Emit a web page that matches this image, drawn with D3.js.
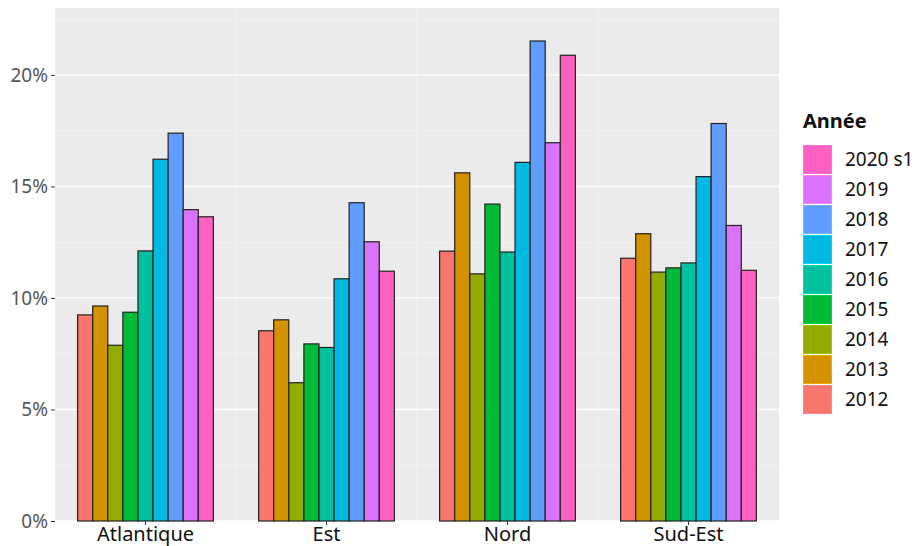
<!DOCTYPE html>
<html>
<head>
<meta charset="utf-8">
<script src="https://cdn.jsdelivr.net/npm/d3@7"></script>
<style>
  html, body { margin: 0; padding: 0; background: #fff; }
  svg { display: block; }
  text { font-family: "Noto Sans", "Open Sans", sans-serif; }
</style>
</head>
<body>
<svg id="chart" width="916" height="546"></svg>
<script>
// ---- Data ----
const regions = ["Atlantique", "Est", "Nord", "Sud-Est"];
const years = ["2012", "2013", "2014", "2015", "2016", "2017", "2018", "2019", "2020 s1"];
const colors = ["#F8766D", "#D39200", "#93AA00", "#00BA38", "#00C19F", "#00B9E3", "#619CFF", "#DB72FB", "#FF61C3"];
const atlantique = [9.24, 9.64, 7.88, 9.36, 12.11, 16.22, 17.39, 13.96, 13.64];
const est = [8.53, 9.02, 6.20, 7.94, 7.78, 10.86, 14.27, 12.52, 11.20];
const nord = [12.10, 15.61, 11.08, 14.21, 12.06, 16.08, 21.52, 16.96, 20.88];
const sudEst = [11.78, 12.88, 11.16, 11.35, 11.57, 15.44, 17.82, 13.25, 11.24];
const yTicks = [0, 5, 10, 15, 20];
const yTickLabels = ["0%", "5%", "10%", "15%", "20%"];
const yMinor = [2.5, 7.5, 12.5, 17.5, 22.5];
const legendTitle = "Année";

const seriesByRegion = [atlantique, est, nord, sudEst];
const rows = [];
regions.forEach((r, i) => years.forEach((y, j) => rows.push({ region: r, year: y, value: seriesByRegion[i][j] })));

// ---- Layout ----
const px0 = 55, px1 = 779, py0 = 8, py1 = 521;
const svg = d3.select("#chart");

const x = d3.scaleBand().domain(regions).range([px0, px1]).paddingInner(0.25).paddingOuter(0.125);
const xi = d3.scaleBand().domain(years).range([0, x.bandwidth()]);
const y = d3.scaleLinear().domain([0, 23.0]).range([py1, py0]);
const color = d3.scaleOrdinal().domain(years).range(colors);

// panel background
svg.append("rect").attr("x", px0).attr("y", py0).attr("width", px1 - px0).attr("height", py1 - py0).attr("fill", "#EBEBEB");

// minor horizontal grid
svg.append("g").selectAll("line").data(yMinor).join("line")
  .attr("x1", px0).attr("x2", px1)
  .attr("y1", d => y(d)).attr("y2", d => y(d))
  .attr("stroke", "#F4F4F4").attr("stroke-width", 0.8);

// vertical faint lines between categories
const mids = regions.slice(0, -1).map((r, i) => (x(r) + x.bandwidth() + x(regions[i + 1])) / 2);
svg.append("g").selectAll("line").data(mids).join("line")
  .attr("x1", d => d).attr("x2", d => d)
  .attr("y1", py0).attr("y2", py1)
  .attr("stroke", "#F4F4F4").attr("stroke-width", 0.8);

// major horizontal grid
svg.append("g").selectAll("line").data(yTicks).join("line")
  .attr("x1", px0).attr("x2", px1)
  .attr("y1", d => y(d)).attr("y2", d => y(d))
  .attr("stroke", "#FFFFFF").attr("stroke-width", 1.3);

// bars
svg.append("g").selectAll("rect").data(rows).join("rect")
  .attr("x", d => x(d.region) + xi(d.year))
  .attr("y", d => y(d.value))
  .attr("width", xi.bandwidth())
  .attr("height", d => y(0) - y(d.value))
  .attr("fill", d => color(d.year))
  .attr("stroke", "#222")
  .attr("stroke-width", 1.2);

// y axis
const yAxis = d3.axisLeft(y).tickValues(yTicks).tickFormat((d, i) => yTickLabels[i]).tickSize(4).tickPadding(3);
const gy = svg.append("g").attr("transform", `translate(${px0},0)`).call(yAxis);
gy.select(".domain").remove();
gy.selectAll(".tick line").attr("stroke", "#333");
gy.selectAll(".tick text").attr("fill", "#555").attr("font-size", 19).attr("font-family", "Noto Sans");

// x axis
const xAxis = d3.axisBottom(x).tickSize(4).tickPadding(2);
const gx = svg.append("g").attr("transform", `translate(0,${py1})`).call(xAxis);
gx.select(".domain").remove();
gx.selectAll(".tick line").attr("stroke", "#333");
gx.selectAll(".tick text").attr("fill", "#111").attr("font-size", 20).attr("font-family", "Noto Sans");

// legend
const lg = svg.append("g").attr("transform", "translate(803,0)");
lg.append("text").attr("x", 0).attr("y", 128).text(legendTitle)
  .attr("font-size", 20).attr("font-weight", "bold").attr("fill", "#111");
const legendYears = years.slice().reverse();
const item = lg.selectAll("g.item").data(legendYears).join("g").attr("class", "item")
  .attr("transform", (d, i) => `translate(0,${145 + i * 30})`);
item.append("rect").attr("x", 0.5).attr("y", 0.5).attr("width", 28).attr("height", 28)
  .attr("fill", d => color(d))
  .attr("stroke", d => d3.color(color(d)).brighter(0.4))
  .attr("stroke-width", 1);
item.append("text").attr("x", 42).attr("y", 14.5).attr("dy", "0.36em")
  .attr("font-size", 19).attr("fill", "#111").text(d => d);
</script>
</body>
</html>
